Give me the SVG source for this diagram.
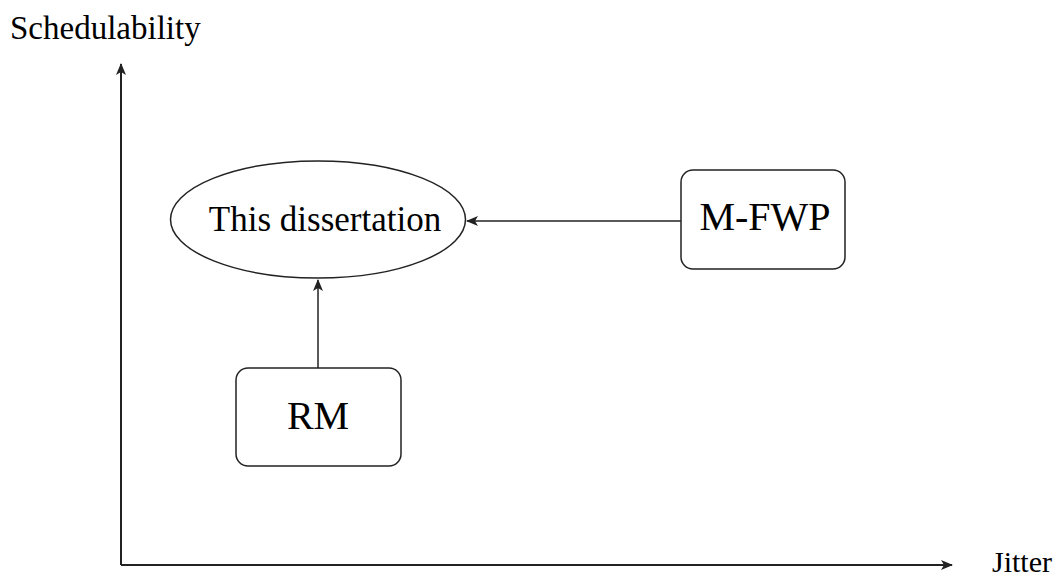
<svg xmlns="http://www.w3.org/2000/svg" width="1061" height="576" viewBox="0 0 1061 576">
  <style>
    .lbl { font-family: "Liberation Serif", "Times New Roman", serif; fill: #000; }
    .shape { fill: #fff; stroke: #222; stroke-width: 1.5; }
    .axis { stroke: #222; stroke-width: 2; fill: none; }
    .edge { stroke: #222; stroke-width: 1.5; fill: none; }
  </style>
  <defs>
    <marker id="arrow" viewBox="0 0 12 10" refX="11" refY="5" markerWidth="12" markerHeight="10" markerUnits="userSpaceOnUse" orient="auto">
      <path d="M0,0 L12,5 L0,10 L3,5 Z" fill="#222"/>
    </marker>
  </defs>
  <rect width="1061" height="576" fill="#fff"/>

  <!-- axes -->
  <g id="axes">
    <path class="axis" d="M121,565 L121,64" marker-end="url(#arrow)"/>
    <path class="axis" d="M121,565 L952,565" marker-end="url(#arrow)"/>
    <text class="lbl" x="10" y="39" font-size="33">Schedulability</text>
    <text class="lbl" x="992" y="572" font-size="30">Jitter</text>
  </g>

  <!-- connectors -->
  <g id="connectors">
    <path class="edge" d="M681,221 L467,221" marker-end="url(#arrow)"/>
    <path class="edge" d="M318,368 L318,280" marker-end="url(#arrow)"/>
  </g>

  <g id="this-dissertation">
    <ellipse class="shape" cx="318" cy="219.5" rx="147.5" ry="58.5"/>
    <text class="lbl" x="325" y="231" font-size="35" text-anchor="middle">This dissertation</text>
  </g>

  <g id="m-fwp">
    <rect class="shape" x="681" y="170" width="164" height="99" rx="12"/>
    <text class="lbl" x="765" y="230" font-size="40" text-anchor="middle">M-FWP</text>
  </g>

  <g id="rm">
    <rect class="shape" x="236" y="368" width="165" height="98" rx="12"/>
    <text class="lbl" x="318" y="429" font-size="40" text-anchor="middle">RM</text>
  </g>
</svg>
